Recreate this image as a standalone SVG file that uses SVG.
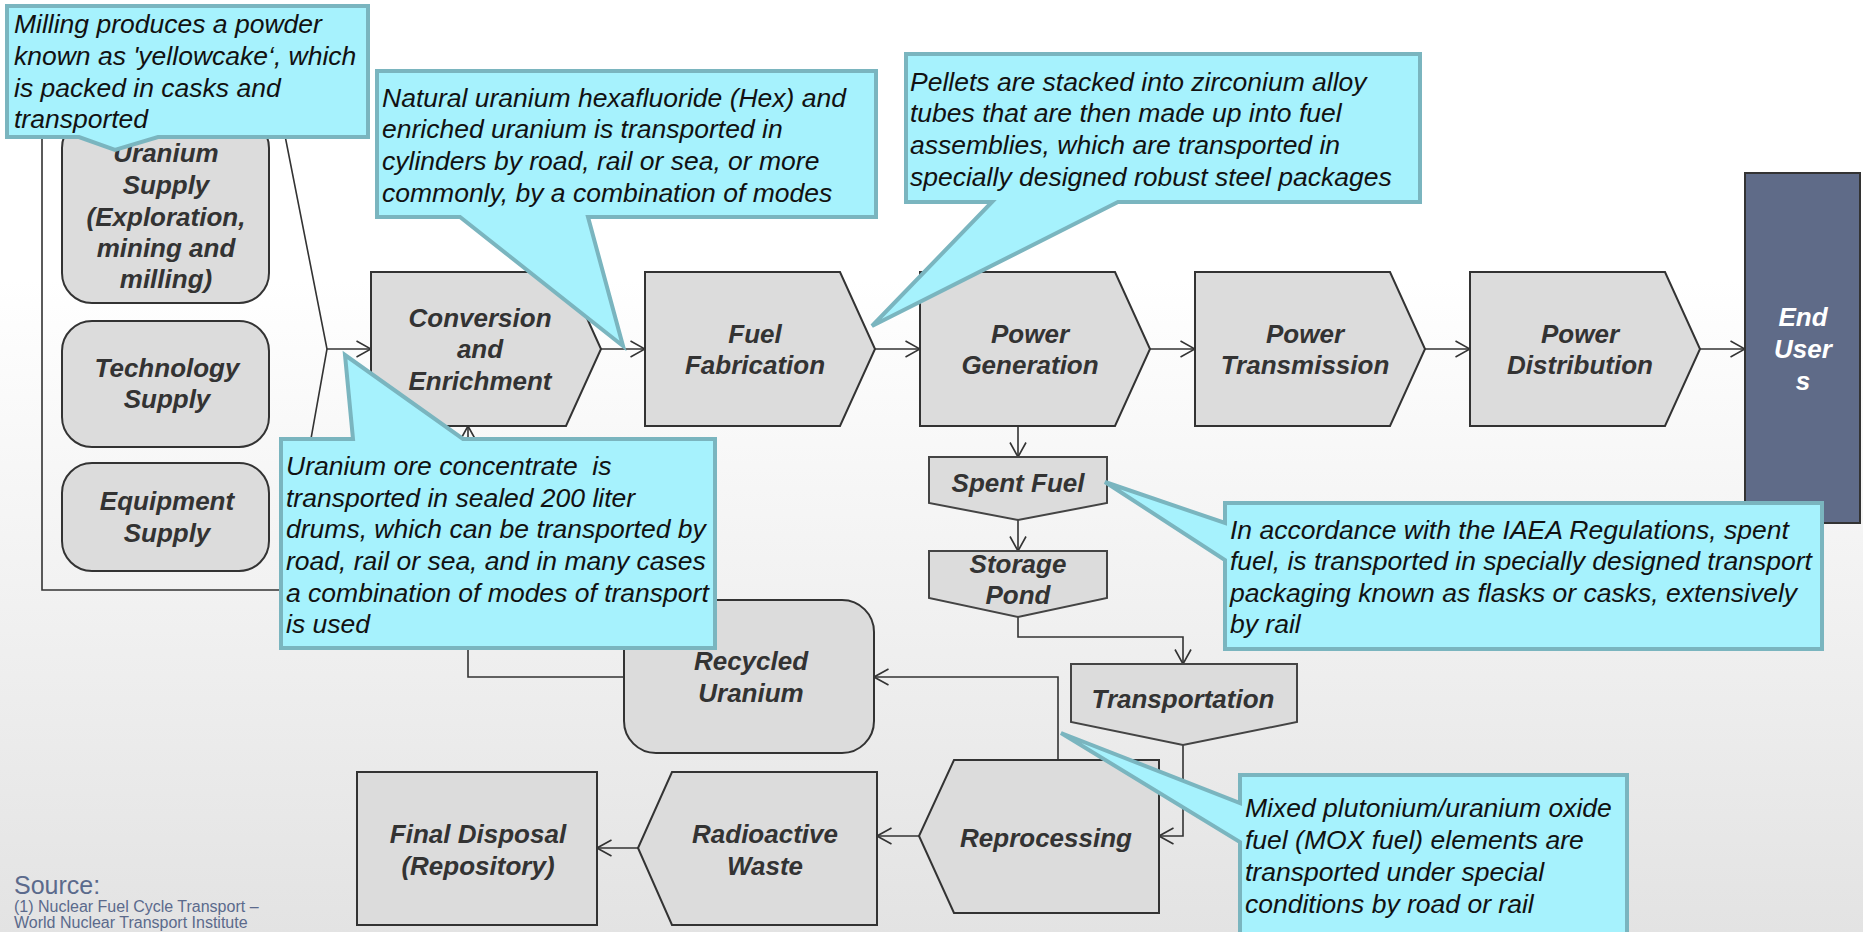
<svg xmlns="http://www.w3.org/2000/svg" width="1863" height="932" viewBox="0 0 1863 932">
<defs>
<linearGradient id="bg" x1="0" y1="0" x2="0" y2="1">
<stop offset="0" stop-color="#ffffff"/>
<stop offset="0.3" stop-color="#ffffff"/>
<stop offset="1" stop-color="#e3e3e3"/>
</linearGradient>
<marker id="arr" viewBox="0 0 16 18" refX="15.5" refY="9" markerWidth="16" markerHeight="18" markerUnits="userSpaceOnUse" orient="auto">
<path d="M1,1 L15.5,9 L1,17" fill="none" stroke="#333" stroke-width="1.6"/>
</marker>
</defs>
<style>
.node{fill:#dcdcdc;stroke:#333;stroke-width:2}
.node2{fill:#dcdcdc;stroke:#444;stroke-width:2}
.lbl{font-family:"Liberation Sans",Arial,sans-serif;font-size:26px;font-weight:bold;font-style:italic;fill:#333;text-anchor:middle}
.wl{fill:#ffffff}
.call{fill:#a6f2fd;stroke:#7ab5bf;stroke-width:4;stroke-linejoin:miter}
.ct{font-family:"Liberation Sans",Arial,sans-serif;font-size:26.5px;font-style:italic;fill:#111}
.con{fill:none;stroke:#333;stroke-width:1.6}
.src{font-family:"Liberation Sans",Arial,sans-serif;fill:#5b6a8c}
</style>
<rect x="0" y="0" width="1863" height="932" fill="url(#bg)"/>

<g id="connectors">
<path class="con" d="M278,100 L327,349 L284,590 H42 V100 Z"/>
<path class="con" d="M327,349 H371" marker-end="url(#arr)"/>
<path class="con" d="M601,349 H645" marker-end="url(#arr)"/>
<path class="con" d="M875,349 H920" marker-end="url(#arr)"/>
<path class="con" d="M1150,349 H1195" marker-end="url(#arr)"/>
<path class="con" d="M1425,349 H1470" marker-end="url(#arr)"/>
<path class="con" d="M1700,349 H1745" marker-end="url(#arr)"/>
<path class="con" d="M1018,426 V457" marker-end="url(#arr)"/>
<path class="con" d="M1018,520 V551" marker-end="url(#arr)"/>
<path class="con" d="M1018,617 V637 H1183 V664" marker-end="url(#arr)"/>
<path class="con" d="M1183,745 V836 H1159" marker-end="url(#arr)"/>
<path class="con" d="M1058,760 V677 H874" marker-end="url(#arr)"/>
<path class="con" d="M624,677 H468 V426" marker-end="url(#arr)"/>
<path class="con" d="M919,836 H877" marker-end="url(#arr)"/>
<path class="con" d="M638,848 H597" marker-end="url(#arr)"/>
</g>

<g id="source">
<text class="src" x="14" y="894" font-size="25">Source:</text>
<text class="src" x="14" font-size="16"><tspan x="14" y="912">(1)  Nuclear Fuel Cycle Transport –</tspan><tspan x="14" y="928">World Nuclear Transport Institute</tspan></text>
</g>

<g id="uranium-supply">
<rect class="node" x="62" y="118" width="207" height="185" rx="30"/>
<text class="lbl"><tspan x="166" y="162">Uranium</tspan><tspan x="166" y="194">Supply</tspan><tspan x="166" y="226">(Exploration,</tspan><tspan x="166" y="257">mining and</tspan><tspan x="166" y="288">milling)</tspan></text>
</g>
<g id="technology-supply">
<rect class="node" x="62" y="321" width="207" height="126" rx="30"/>
<text class="lbl"><tspan x="167" y="377">Technology</tspan><tspan x="167" y="408">Supply</tspan></text>
</g>
<g id="equipment-supply">
<rect class="node" x="62" y="463" width="207" height="108" rx="30"/>
<text class="lbl"><tspan x="167" y="510">Equipment</tspan><tspan x="167" y="542">Supply</tspan></text>
</g>

<g id="conversion">
<path class="node" d="M371,272 H566 L601,349 L566,426 H371 Z"/>
<text class="lbl"><tspan x="480" y="327">Conversion</tspan><tspan x="480" y="358">and</tspan><tspan x="480" y="390">Enrichment</tspan></text>
</g>
<g id="fuel-fabrication">
<path class="node" d="M645,272 H840 L875,349 L840,426 H645 Z"/>
<text class="lbl"><tspan x="755" y="343">Fuel</tspan><tspan x="755" y="374">Fabrication</tspan></text>
</g>
<g id="power-generation">
<path class="node" d="M920,272 H1115 L1150,349 L1115,426 H920 Z"/>
<text class="lbl"><tspan x="1030" y="343">Power</tspan><tspan x="1030" y="374">Generation</tspan></text>
</g>
<g id="power-transmission">
<path class="node" d="M1195,272 H1390 L1425,349 L1390,426 H1195 Z"/>
<text class="lbl"><tspan x="1305" y="343">Power</tspan><tspan x="1305" y="374">Transmission</tspan></text>
</g>
<g id="power-distribution">
<path class="node" d="M1470,272 H1665 L1700,349 L1665,426 H1470 Z"/>
<text class="lbl"><tspan x="1580" y="343">Power</tspan><tspan x="1580" y="374">Distribution</tspan></text>
</g>
<g id="end-users">
<rect x="1745" y="173" width="115" height="350" fill="#5f6b88" stroke="#333" stroke-width="2"/>
<text class="lbl wl"><tspan x="1803" y="326">End</tspan><tspan x="1803" y="358">User</tspan><tspan x="1803" y="390">s</tspan></text>
</g>

<g id="spent-fuel">
<path class="node2" d="M929,457 H1107 V503 L1018,520 L929,503 Z"/>
<text class="lbl" x="1018" y="492">Spent Fuel</text>
</g>
<g id="storage-pond">
<path class="node2" d="M929,551 H1107 V598 L1018,617 L929,598 Z"/>
<text class="lbl"><tspan x="1018" y="573">Storage</tspan><tspan x="1018" y="604">Pond</tspan></text>
</g>
<g id="transportation">
<path class="node2" d="M1071,664 H1297 V722 L1183,745 L1071,722 Z"/>
<text class="lbl" x="1183" y="708">Transportation</text>
</g>
<g id="reprocessing">
<path class="node" d="M954,760 H1159 V913 H954 L919,836 Z"/>
<text class="lbl" x="1046" y="847">Reprocessing</text>
</g>
<g id="radioactive-waste">
<path class="node" d="M672,772 H877 V925 H672 L638,848 Z"/>
<text class="lbl"><tspan x="765" y="843">Radioactive</tspan><tspan x="765" y="875">Waste</tspan></text>
</g>
<g id="final-disposal">
<rect class="node" x="357" y="772" width="240" height="153"/>
<text class="lbl"><tspan x="478" y="843">Final Disposal</tspan><tspan x="478" y="875">(Repository)</tspan></text>
</g>
<g id="recycled-uranium">
<rect class="node" x="624" y="600" width="250" height="153" rx="32"/>
<text class="lbl"><tspan x="751" y="670">Recycled</tspan><tspan x="751" y="702">Uranium</tspan></text>
</g>

<g id="callout-milling">
<path class="call" d="M7,6 H368 V137 H158 L115,150 L79,137 H7 Z"/>
<text class="ct"><tspan x="14" y="33">Milling produces a powder</tspan><tspan x="14" y="65">known as 'yellowcake‘, which</tspan><tspan x="14" y="97">is packed in casks and</tspan><tspan x="14" y="128">transported</tspan></text>
</g>
<g id="callout-hex">
<path class="call" d="M377,71 H876 V217 H588 L623,346 L460,217 H377 Z"/>
<text class="ct"><tspan x="382" y="107">Natural uranium hexafluoride (Hex) and</tspan><tspan x="382" y="138">enriched uranium is transported in</tspan><tspan x="382" y="170">cylinders by road, rail or sea, or more</tspan><tspan x="382" y="202">commonly, by a combination of modes</tspan></text>
</g>
<g id="callout-pellets">
<path class="call" d="M906,54 H1420 V202 H1118 L872,326 L992,202 H906 Z"/>
<text class="ct"><tspan x="910" y="91">Pellets are stacked into zirconium alloy</tspan><tspan x="910" y="122">tubes that are then made up into fuel</tspan><tspan x="910" y="154">assemblies, which are transported in</tspan><tspan x="910" y="186">specially designed robust steel packages</tspan></text>
</g>
<g id="callout-ore">
<path class="call" d="M281,439 H353 L345,355 L463,439 H715 V648 H281 Z"/>
<text class="ct"><tspan x="286" y="475">Uranium ore concentrate&#160; is</tspan><tspan x="286" y="507">transported in sealed 200 liter</tspan><tspan x="286" y="538">drums, which can be transported by</tspan><tspan x="286" y="570">road, rail or sea, and in many cases</tspan><tspan x="286" y="602">a combination of modes of transport</tspan><tspan x="286" y="633">is used</tspan></text>
</g>
<g id="callout-iaea">
<path class="call" d="M1225,503 H1822 V649 H1225 V560 L1105,482 L1225,523 Z"/>
<text class="ct"><tspan x="1230" y="539">In accordance with the IAEA Regulations, spent</tspan><tspan x="1230" y="570">fuel, is transported in specially designed transport</tspan><tspan x="1230" y="602">packaging known as flasks or casks, extensively</tspan><tspan x="1230" y="633">by rail</tspan></text>
</g>
<g id="callout-mox">
<path class="call" d="M1240,775 H1627 V945 H1240 V842 L1061,733 L1240,803 Z"/>
<text class="ct"><tspan x="1245" y="817">Mixed plutonium/uranium oxide</tspan><tspan x="1245" y="849">fuel (MOX fuel) elements are</tspan><tspan x="1245" y="881">transported under special</tspan><tspan x="1245" y="913">conditions by road or rail</tspan></text>
</g>
</svg>
